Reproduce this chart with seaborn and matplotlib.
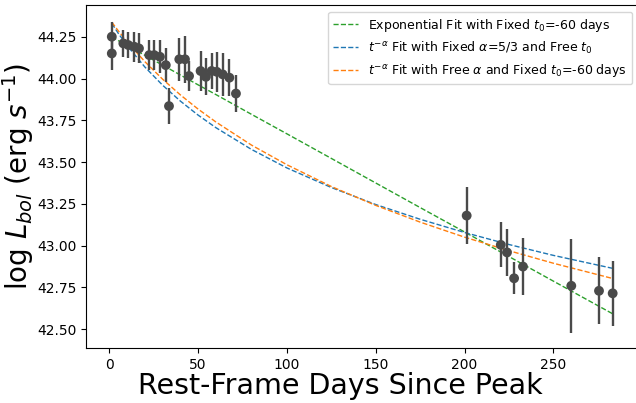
import matplotlib
matplotlib.use("Agg")
import matplotlib.pyplot as plt
import seaborn as sns
import pandas as pd

# Observed bolometric luminosities
days = [1.4, 1.4, 7.9, 10.7, 14.1, 16.7, 22.5, 25.3, 28.5, 31.8, 33.6,
        39.4, 42.6, 44.9, 51.4, 54.4, 57.6, 60.5, 63.8, 67.6, 71.3,
        201.2, 220.4, 223.9, 227.9, 232.9, 260.1, 275.7, 283.4]
log_lbol = [44.25, 44.15, 44.21, 44.20, 44.19, 44.18, 44.14, 44.14, 44.13, 44.08, 43.835,
            44.115, 44.115, 44.015, 44.045, 44.01, 44.045, 44.04, 44.025, 44.005, 43.91,
            43.18, 43.005, 42.96, 42.805, 42.875, 42.76, 42.73, 42.715]
log_err = [0.09, 0.10, 0.08, 0.08, 0.09, 0.09, 0.09, 0.09, 0.10, 0.10, 0.11,
           0.13, 0.14, 0.09, 0.12, 0.11, 0.11, 0.12, 0.13, 0.11, 0.11,
           0.17, 0.135, 0.14, 0.095, 0.17, 0.28, 0.20, 0.195]

# Fit curves
fit_days = [1.4, 5, 10, 20, 30, 40, 50, 60, 80, 100, 125, 150, 175, 200, 225, 250, 284]
exp_fit = [44.25, 44.227, 44.197, 44.139, 44.080, 44.021, 43.962, 43.904, 43.786, 43.669,
           43.522, 43.375, 43.228, 43.082, 42.935, 42.788, 42.589]
pow_fixed_alpha = [44.33, 44.271, 44.197, 44.069, 43.960, 43.865, 43.781, 43.706, 43.576, 43.465,
                   43.348, 43.246, 43.158, 43.079, 43.007, 42.942, 42.863]
pow_free_alpha = [44.337, 44.286, 44.220, 44.101, 43.996, 43.902, 43.817, 43.740, 43.602, 43.484,
                  43.354, 43.241, 43.141, 43.051, 42.970, 42.895, 42.802]

labels = [r"Exponential Fit with Fixed $t_0$=-60 days",
          r"$t^{-\alpha}$ Fit with Fixed $\alpha$=5/3 and Free $t_0$",
          r"$t^{-\alpha}$ Fit with Free $\alpha$ and Fixed $t_0$=-60 days"]
colors = ["#2ca02c", "#1f77b4", "#ff7f0e"]

obs = pd.DataFrame({"day": days, "logL": log_lbol, "err": log_err})

fig = plt.figure(figsize=(6.36, 4.03), dpi=100)
ax = fig.add_axes([0.1357, 0.1365, 0.8684, 0.8504])

for yvals, lab, col in zip([exp_fit, pow_fixed_alpha, pow_free_alpha], labels, colors):
    df = pd.DataFrame({"day": fit_days, "logL": yvals})
    sns.lineplot(data=df, x="day", y="logL", ax=ax, color=col, linestyle="--",
                 linewidth=1.0, label=lab, sort=False, zorder=2)

ax.errorbar(obs["day"], obs["logL"], yerr=obs["err"], fmt="none",
            ecolor="#4a4a4a", elinewidth=1.7, zorder=3)
sns.scatterplot(data=obs, x="day", y="logL", ax=ax, color="#4a4a4a", s=50,
                edgecolor="none", zorder=4)

ax.set_xlim(-12.95, 298)
ax.set_ylim(42.388, 44.438)
ax.set_yticks([42.50, 42.75, 43.00, 43.25, 43.50, 43.75, 44.00, 44.25])
ax.set_yticklabels(["42.50", "42.75", "43.00", "43.25", "43.50", "43.75", "44.00", "44.25"])
ax.set_xticks([0, 50, 100, 150, 200, 250])
ax.tick_params(labelsize=10)
ax.set_xlabel("Rest-Frame Days Since Peak", fontsize=20.5, x=0.4594, labelpad=0)
ax.set_ylabel(r"log $L_{bol}$ (erg $s^{-1}$)", fontsize=20, labelpad=1)

ax.legend(loc="upper right", fontsize=9)

fig.savefig("out.png", dpi=100)
